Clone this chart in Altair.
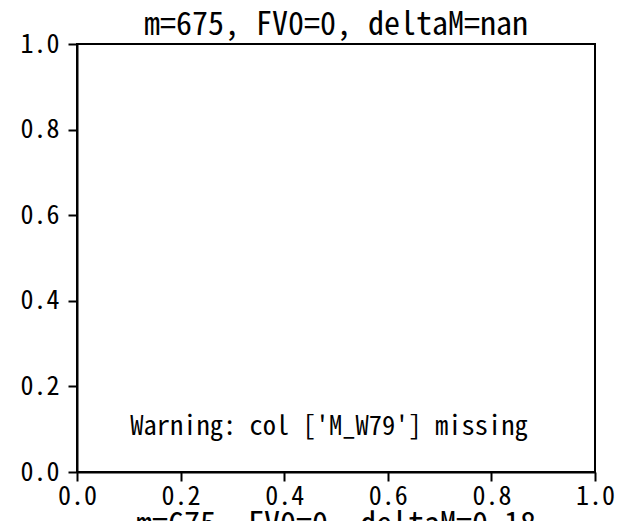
import altair as alt
import pandas as pd

title_text = "m=675, FV0=0, deltaM=nan"
warning_text = "Warning: col ['M_W79'] missing"
bottom_text = "m=675, FV0=0, deltaM=0.18"
x_ticks = [0.0, 0.2, 0.4, 0.6, 0.8, 1.0]
y_ticks = [0.0, 0.2, 0.4, 0.6, 0.8, 1.0]
warn_x = [0.5]
warn_y = [0.1]

FONT = "Noto Sans Mono CJK SC, DejaVu Sans Mono, monospace"

W, H = 518, 428

warn_df = pd.DataFrame({"x": warn_x, "y": warn_y, "t": [warning_text]})


def ax(values, pad):
    return alt.Axis(values=values, format=".1f", grid=False, title=None,
                    labelFont=FONT, labelFontSize=26, labelColor="black",
                    labelPadding=pad, tickSize=9, tickColor="black", tickWidth=2,
                    domainColor="black", domainWidth=2, labelFlush=False)


xs = alt.X("x:Q", scale=alt.Scale(domain=[0, 1], nice=False, zero=False),
           axis=ax(x_ticks, 2))
ys = alt.Y("y:Q", scale=alt.Scale(domain=[0, 1], nice=False, zero=False),
           axis=ax(y_ticks, 9))

warn = alt.Chart(warn_df).mark_text(font=FONT, fontSize=26.5, color="black",
                                    align="center", baseline="middle",
                                    dx=-7, dy=-2).encode(
    x=xs, y=ys, text="t:N")

bottom = alt.Chart(pd.DataFrame({"t": [bottom_text]})).mark_text(
    font=FONT, fontSize=32, color="black", align="center", baseline="top",
    clip=False).encode(x=alt.value(W / 2), y=alt.value(H + 38), text="t:N")

chart = alt.layer(warn, bottom).properties(
    width=W, height=H,
    title=alt.TitleParams(title_text, font=FONT, fontSize=32, fontWeight="normal",
                          color="black", offset=-11),
    autosize=alt.AutoSizeParams(type="none"),
    padding={"left": 69, "top": 36, "right": 20, "bottom": 80},
).configure_view(stroke="black", strokeWidth=2)

chart.save("out.html", embed_options={"renderer": "svg", "actions": False})
